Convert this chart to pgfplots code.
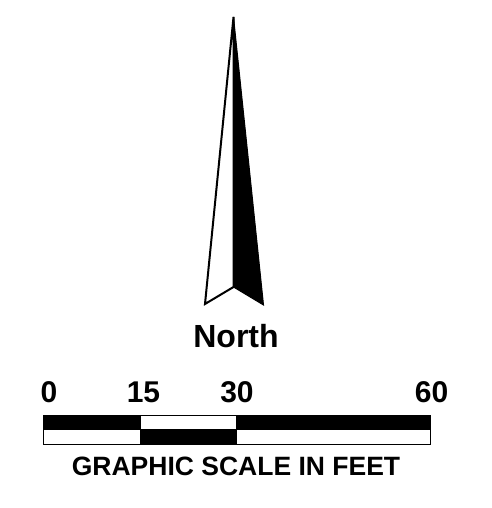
\documentclass[border=0pt]{standalone}
\usepackage{pgfplots}
\pgfplotsset{compat=1.18}
\usepackage{fontspec}
\setmainfont{Liberation Sans}
\begin{document}
\begin{tikzpicture}[x=1pt,y=1pt]
\begin{axis}[
  width=491pt, height=508pt, scale only axis,
  xmin=0, xmax=491, ymin=0, ymax=508, y dir=reverse,
  hide axis, clip=false,
]
\path (rel axis cs:0,0) rectangle (rel axis cs:1,1);
% north arrow: white half
\addplot[draw=black, fill=white, line width=2pt, line join=miter] coordinates {(233.5,17) (205,304) (233.5,287) (233.5,17)} -- cycle;
% black half
\addplot[draw=black, fill=black, line width=1pt, line join=miter] coordinates {(233.5,17) (263.5,305) (233.5,287) (233.5,17)} -- cycle;
% scale bar top row
\addplot[draw=black, fill=black, line width=1pt] coordinates {(43.5,415) (140,415) (140,429) (43.5,429)} -- cycle;
\addplot[draw=black, fill=white, line width=1pt] coordinates {(140,415) (236.5,415) (236.5,429) (140,429)} -- cycle;
\addplot[draw=black, fill=black, line width=1pt] coordinates {(236.5,415) (430,415) (430,429) (236.5,429)} -- cycle;
% bottom row
\addplot[draw=black, fill=white, line width=1pt] coordinates {(43.5,429) (140,429) (140,444) (43.5,444)} -- cycle;
\addplot[draw=black, fill=black, line width=1pt] coordinates {(140,429) (236.5,429) (236.5,444) (140,444)} -- cycle;
\addplot[draw=black, fill=white, line width=1pt] coordinates {(236.5,429) (430,429) (430,444) (236.5,444)} -- cycle;
% labels
\node[anchor=base, font=\fontsize{30}{31}\selectfont\bfseries, inner sep=0pt] at (axis cs:49,402.5) {0};
\node[anchor=base, font=\fontsize{30}{31}\selectfont\bfseries, inner sep=0pt] at (axis cs:143.5,402.5) {15};
\node[anchor=base, font=\fontsize{30}{31}\selectfont\bfseries, inner sep=0pt] at (axis cs:237,402.5) {30};
\node[anchor=base, font=\fontsize{30}{31}\selectfont\bfseries, inner sep=0pt] at (axis cs:431.5,402.5) {60};
\node[anchor=base, font=\fontsize{32}{33}\selectfont\bfseries, inner sep=0pt] at (axis cs:236,347) {North};
\node[anchor=base, font=\fontsize{26.5}{28}\selectfont\bfseries, inner sep=0pt] at (axis cs:236,475) {GRAPHIC SCALE IN FEET};
\end{axis}
\end{tikzpicture}
\end{document}
